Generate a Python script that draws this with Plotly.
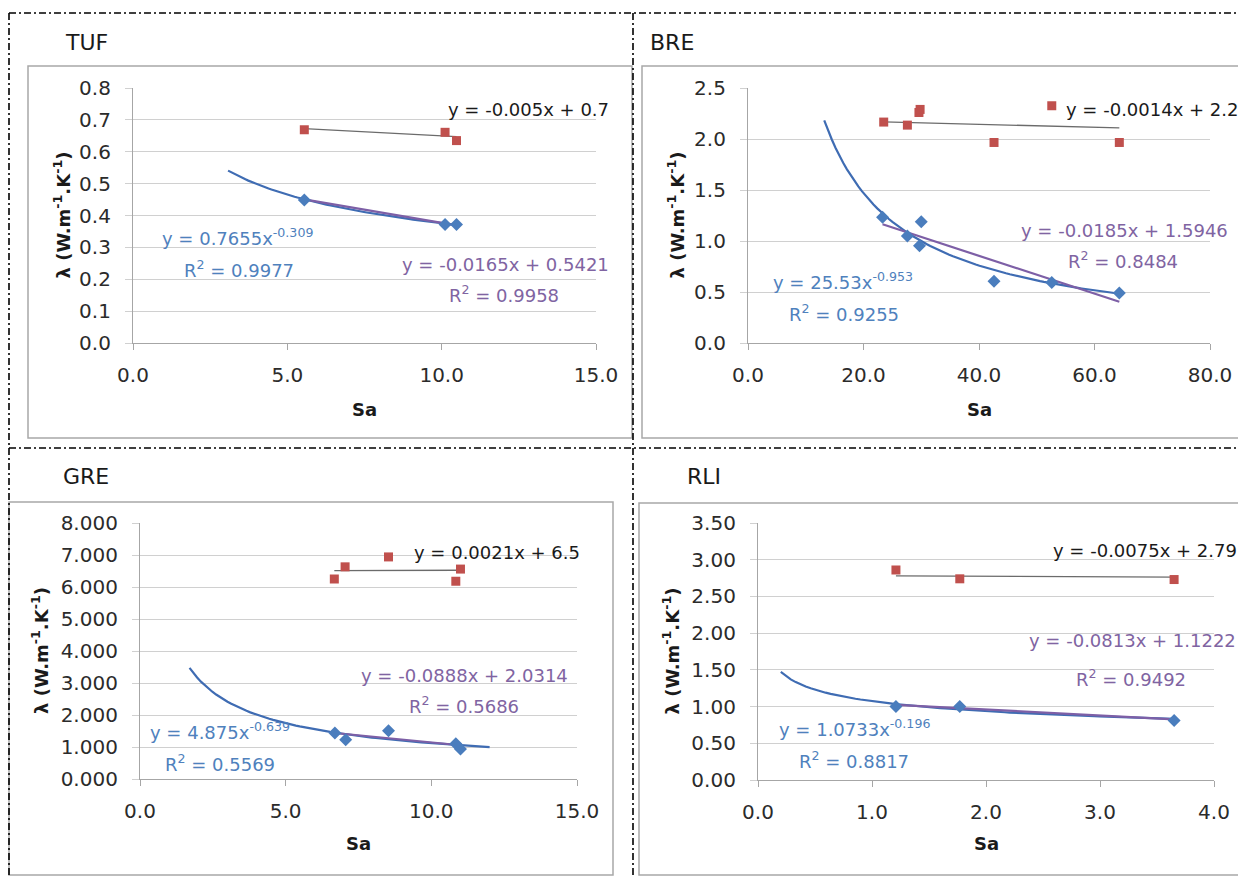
import numpy as np
import plotly.graph_objects as go

# page body has an 8px margin: the figure is drawn at screen offset (8, 8)
OFF = 8
W, H = 1246 - OFF, 876 - OFF

# ---------------- data ----------------
# TUF
tuf_sa_red = [5.55, 10.11, 10.48]
tuf_lam_red = [0.669, 0.661, 0.635]
tuf_sa_blue = [5.55, 10.11, 10.48]
tuf_lam_blue = [0.449, 0.372, 0.372]
tuf_lin_red = [-0.005, 0.7]
tuf_pow_blue = [0.7655, -0.309]
tuf_lin_blue = [-0.0165, 0.5421]
tuf_pow_range = [3.08, 10.48]

# BRE
bre_sa_red = [23.5, 27.6, 29.6, 29.8, 42.6, 52.6, 64.3]
bre_lam_red = [2.166, 2.136, 2.26, 2.29, 1.966, 2.326, 1.966]
bre_sa_blue = [23.3, 27.6, 30.0, 29.7, 42.6, 52.6, 64.3]
bre_lam_blue = [1.232, 1.048, 1.189, 0.953, 0.606, 0.593, 0.49]
bre_lin_red = [-0.0014, 2.2]
bre_pow_blue = [25.53, -0.953]
bre_lin_blue = [-0.0185, 1.5946]
bre_pow_range = [13.2, 65.0]

# GRE
gre_sa_red = [6.67, 7.04, 8.53, 10.84, 11.0]
gre_lam_red = [6.25, 6.63, 6.94, 6.18, 6.56]
gre_sa_blue = [6.69, 7.06, 8.53, 10.84, 11.0]
gre_lam_blue = [1.44, 1.23, 1.51, 1.10, 0.94]
gre_lin_red = [0.0021, 6.5]
gre_pow_blue = [4.875, -0.639]
gre_lin_blue = [-0.0888, 2.0314]
gre_pow_range = [1.7, 12.0]

# RLI
rli_sa_red = [1.21, 1.77, 3.65]
rli_lam_red = [2.86, 2.74, 2.73]
rli_sa_blue = [1.21, 1.77, 3.65]
rli_lam_blue = [1.0, 1.0, 0.81]
rli_lin_red = [-0.0075, 2.79]
rli_pow_blue = [1.0733, -0.196]
rli_lin_blue = [-0.0813, 1.1222]
rli_pow_range = [0.2, 3.65]

# labels
panel_names = ["TUF", "BRE", "GRE", "RLI"]
eq_red = ["y = -0.005x + 0.7", "y = -0.0014x + 2.2", "y = 0.0021x + 6.5", "y = -0.0075x + 2.79"]
eq_pow = ["y = 0.7655x<sup>-0.309</sup>", "y = 25.53x<sup>-0.953</sup>",
          "y = 4.875x<sup>-0.639</sup>", "y = 1.0733x<sup>-0.196</sup>"]
r2_pow = ["R<sup>2</sup> = 0.9977", "R<sup>2</sup> = 0.9255", "R<sup>2</sup> = 0.5569", "R<sup>2</sup> = 0.8817"]
eq_lin = ["y = -0.0165x + 0.5421", "y = -0.0185x + 1.5946", "y = -0.0888x + 2.0314", "y = -0.0813x + 1.1222"]
r2_lin = ["R<sup>2</sup> = 0.9958", "R<sup>2</sup> = 0.8484", "R<sup>2</sup> = 0.5686", "R<sup>2</sup> = 0.9492"]
x_title = "Sa"
y_title = "λ (W.m<sup>-1</sup>.K<sup>-1</sup>)"

# ---------------- styling / layout (screen pixels) ----------------
FONT = "DejaVu Sans"
RED = "#c0504d"
BLUE = "#4a7dbd"
POWC = "#3f6cb3"
PURP = "#7d5fa6"
GRID = "#d0d0d0"
AXC = "#a6a6a6"
TXT = "#2b2b2b"

panels = [
    dict(sr=tuf_sa_red, lr=tuf_lam_red, sb=tuf_sa_blue, lb=tuf_lam_blue,
         lred=tuf_lin_red, pw=tuf_pow_blue, lbl=tuf_lin_blue, prng=tuf_pow_range,
         xr=[0, 15], xd=5, yr=[0, 0.8], yd=0.1, xf=".1f", yf=".1f",
         px=[133, 596], py=[88, 343], box=[28, 66, 632, 438], title=[63, 42],
         ytitle_x=63, sa_y=410,
         a_red=[528, 109], a_pow=[238, 237], a_pr2=[239, 269], a_lin=[505, 264], a_lr2=[504, 294]),
    dict(sr=bre_sa_red, lr=bre_lam_red, sb=bre_sa_blue, lb=bre_lam_blue,
         lred=bre_lin_red, pw=bre_pow_blue, lbl=bre_lin_blue, prng=bre_pow_range,
         xr=[0, 80], xd=20, yr=[0, 2.5], yd=0.5, xf=".1f", yf=".1f",
         px=[748, 1210], py=[88, 343], box=[642, 66, 1250, 438], title=[648, 42],
         ytitle_x=677, sa_y=410,
         a_red=[1152, 109], a_pow=[843, 281], a_pr2=[844, 313], a_lin=[1124, 230], a_lr2=[1123, 260]),
    dict(sr=gre_sa_red, lr=gre_lam_red, sb=gre_sa_blue, lb=gre_lam_blue,
         lred=gre_lin_red, pw=gre_pow_blue, lbl=gre_lin_blue, prng=gre_pow_range,
         xr=[0, 15], xd=5, yr=[0, 8], yd=1, xf=".1f", yf=".3f",
         px=[140, 577], py=[523, 779], box=[9, 502, 613, 875], title=[61, 477],
         ytitle_x=40, sa_y=843,
         a_red=[497, 552], a_pow=[220, 731], a_pr2=[220, 763], a_lin=[464, 675], a_lr2=[464, 705]),
    dict(sr=rli_sa_red, lr=rli_lam_red, sb=rli_sa_blue, lb=rli_lam_blue,
         lred=rli_lin_red, pw=rli_pow_blue, lbl=rli_lin_blue, prng=rli_pow_range,
         xr=[0, 4], xd=1, yr=[0, 3.5], yd=0.5, xf=".1f", yf=".2f",
         px=[758, 1214], py=[523, 780], box=[639, 503, 1250, 875], title=[685, 477],
         ytitle_x=671, sa_y=843,
         a_red=[1145, 550], a_pow=[855, 728], a_pr2=[854, 760], a_lin=[1132, 640], a_lr2=[1131, 678]),
]


def fx(p):
    return (p - OFF) / W


def fy(p):
    return 1 - (p - OFF) / H


fig = go.Figure()
shapes = []
annotations = []
layout_axes = {}

for i, P in enumerate(panels):
    k = "" if i == 0 else str(i + 1)
    xa, ya = "x" + k, "y" + k
    # trend lines
    xl = np.array([min(P["sr"]), max(P["sr"])])
    fig.add_trace(go.Scatter(x=xl, y=P["lred"][0] * xl + P["lred"][1], mode="lines",
                             line=dict(color="#6b6b6b", width=1.3), xaxis=xa, yaxis=ya,
                             showlegend=False, hoverinfo="skip"))
    xp = np.linspace(P["prng"][0], P["prng"][1], 80)
    fig.add_trace(go.Scatter(x=xp, y=P["pw"][0] * xp ** P["pw"][1], mode="lines",
                             line=dict(color=POWC, width=2.2), xaxis=xa, yaxis=ya,
                             showlegend=False, hoverinfo="skip"))
    xb = np.array([min(P["sb"]), max(P["sb"])])
    fig.add_trace(go.Scatter(x=xb, y=P["lbl"][0] * xb + P["lbl"][1], mode="lines",
                             line=dict(color=PURP, width=2.2), xaxis=xa, yaxis=ya,
                             showlegend=False, hoverinfo="skip"))
    # points
    fig.add_trace(go.Scatter(x=P["sr"], y=P["lr"], mode="markers",
                             marker=dict(symbol="square", size=9, color=RED),
                             xaxis=xa, yaxis=ya, showlegend=False))
    fig.add_trace(go.Scatter(x=P["sb"], y=P["lb"], mode="markers",
                             marker=dict(symbol="diamond", size=10, color=BLUE),
                             xaxis=xa, yaxis=ya, showlegend=False))

    layout_axes["xaxis" + k] = dict(
        domain=[fx(P["px"][0]), fx(P["px"][1])], anchor=ya, range=P["xr"], dtick=P["xd"],
        tick0=0, tickformat=P["xf"], showgrid=False, zeroline=False, showline=True,
        linecolor=AXC, linewidth=1.2, ticks="outside", ticklen=6, tickcolor=AXC,
        tickfont=dict(family=FONT, size=20, color=TXT), ticklabelstandoff=8,
        automargin=False, fixedrange=True)
    layout_axes["yaxis" + k] = dict(
        domain=[fy(P["py"][1]), fy(P["py"][0])], anchor=xa, range=P["yr"], dtick=P["yd"],
        tick0=0, tickformat=P["yf"], showgrid=True, gridcolor=GRID, gridwidth=1.2,
        zeroline=False, showline=True, linecolor=AXC, linewidth=1.2, ticks="outside",
        ticklen=7, tickcolor=GRID, tickfont=dict(family=FONT, size=20, color=TXT),
        ticklabelstandoff=10, automargin=False, fixedrange=True)

    # chart box
    b = P["box"]
    shapes.append(dict(type="rect", xref="paper", yref="paper", x0=fx(b[0]), y0=fy(b[3]),
                       x1=fx(b[2]), y1=fy(b[1]), line=dict(color="#a8a8a8", width=1.5),
                       fillcolor="rgba(0,0,0,0)", layer="below"))

    def ann(text, pos, color, size=18, xanchor="center", bold=False, angle=0):
        annotations.append(dict(text=("<b>%s</b>" % text) if bold else text, x=fx(pos[0]), y=fy(pos[1]),
                                xref="paper", yref="paper", xanchor=xanchor, yanchor="middle",
                                showarrow=False, textangle=angle,
                                font=dict(family=FONT, size=size, color=color)))

    ann(panel_names[i], P["title"], "#1a1a1a", size=22, xanchor="left")
    ann(eq_red[i], P["a_red"], "#1a1a1a", size=18)
    ann(eq_pow[i], P["a_pow"], "#4f81bd", size=18)
    ann(r2_pow[i], P["a_pr2"], "#4f81bd", size=18)
    ann(eq_lin[i], P["a_lin"], "#8064a2", size=18)
    ann(r2_lin[i], P["a_lr2"], "#8064a2", size=18)
    ann(x_title, [(P["px"][0] + P["px"][1]) / 2, P["sa_y"]], "#1a1a1a", size=18, bold=True)
    ann(y_title, [P["ytitle_x"], (P["py"][0] + P["py"][1]) / 2], "#1a1a1a", size=18,
        bold=True, angle=-90)

# dash-dot frame
dd = "7px,3px,2px,3px"
for (x0, y0, x1, y1) in [(9, 13, 1246, 13), (9, 13, 9, 876), (633, 13, 633, 876), (9, 448, 1246, 448)]:
    shapes.append(dict(type="line", xref="paper", yref="paper", x0=fx(x0), y0=fy(y0), x1=fx(x1),
                       y1=fy(y1), line=dict(color="#000000", width=1.6, dash=dd)))

fig.update_layout(template="none", width=W, height=H,
                  margin=dict(l=0, r=0, t=0, b=0, pad=0, autoexpand=False),
                  paper_bgcolor="white", plot_bgcolor="white", showlegend=False,
                  shapes=shapes, annotations=annotations, **layout_axes)

fig.write_html("out.html")
